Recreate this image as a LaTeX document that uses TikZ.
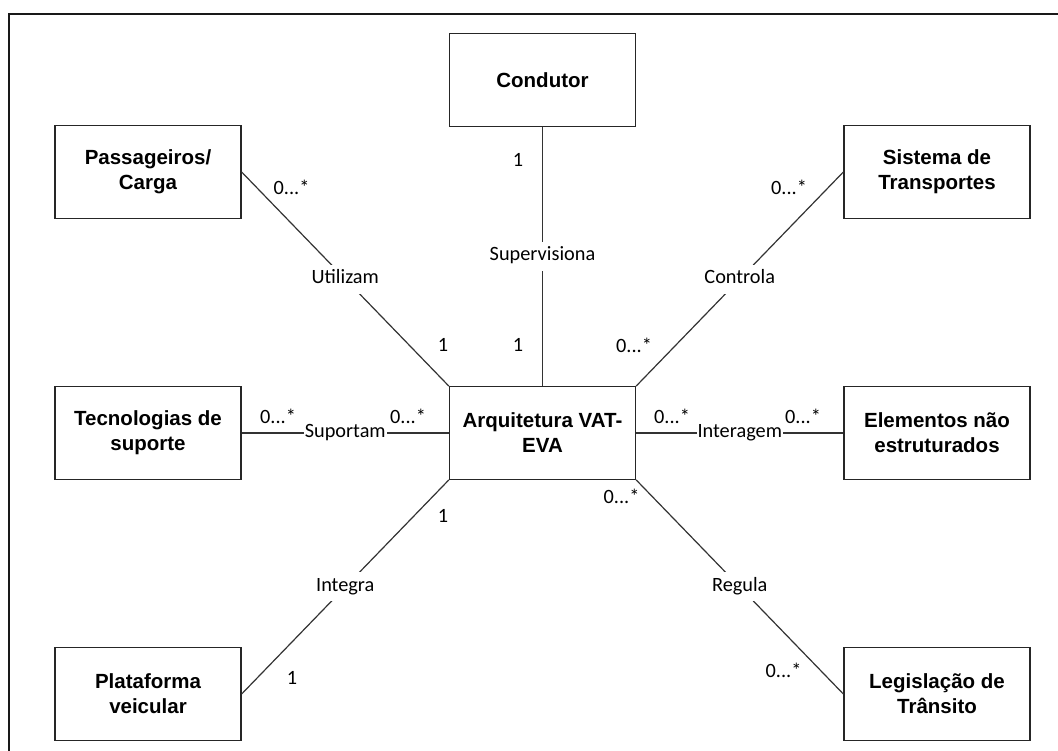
\documentclass[tikz,border=0pt]{standalone}
\usepackage{fontspec}
\setmainfont{Liberation Sans}
\newfontfamily\labelfont{Carlito}

\begin{document}
\begin{tikzpicture}[x=1pt,y=-1pt,
  entity/.style={draw=black!85, line width=1.3pt, minimum width=186pt,
    minimum height=92.5pt, align=center, inner sep=0pt,
    font=\fontsize{20.5}{25}\selectfont\bfseries},
  assoc/.style={draw=black!80, line width=1.2pt},
  verb/.style={fill=white, font=\labelfont\fontsize{20.3}{24}\selectfont,
    inner xsep=1pt, inner ysep=6pt, text height=13pt, text depth=4pt},
  mult/.style={font=\labelfont\fontsize{20.3}{24}\selectfont, inner sep=0pt}
]
\useasboundingbox (0,0) rectangle (1058,751);

% outer frame
\draw[line width=2pt, black!90] (9,770) -- (9,14.5) -- (1080,14.5);

% entities
\node[entity] (cond) at (542.5,80)  {Condutor};
\node[entity] (pass) at (148,172)   {Passageiros/\\Carga};
\node[entity] (sist) at (937,172)   {Sistema de\\Transportes};
\node[entity] (tec)  at (148,433)   {Tecnologias de\\suporte};
\node[entity] (arq)  at (542.5,433) {Arquitetura VAT-\\EVA};
\node[entity] (elem) at (937,433)   {Elementos não\\estruturados};
\node[entity] (plat) at (148,694)   {Plataforma\\veicular};
\node[entity] (leg)  at (937,694)   {Legislação de\\Trânsito};

% associations
\draw[assoc] (cond.south) -- node[verb] (vsup) {Supervisiona} (arq.north);
\draw[assoc] (pass.east) -- node[verb] (vuti) {Utilizam} (arq.north west);
\draw[assoc] (sist.west) -- node[verb] (vcon) {Controla} (arq.north east);
\draw[assoc] (tec.east) -- node[verb] (vsug) {Suportam} (arq.west);
\draw[assoc] (arq.east) -- node[verb] (vint) {Interagem} (elem.west);
\draw[assoc] (plat.east) -- node[verb] (vinteg) {Integra} (arq.south west);
\draw[assoc] (leg.west) -- node[verb] (vreg) {Regula} (arq.south east);

% multiplicities
\node[mult] (m1)  at (291.5,187) {0...*};
\node[mult] (m2)  at (443,345)   {1};
\node[mult] (m3)  at (518,159.5) {1};
\node[mult] (m4)  at (518,345)   {1};
\node[mult] (m5)  at (789,187)   {0...*};
\node[mult] (m6)  at (634,345)   {0...*};
\node[mult] (m7)  at (278,416.5) {0...*};
\node[mult] (m8)  at (408,416.5) {0...*};
\node[mult] (m9)  at (672,416.5) {0...*};
\node[mult] (m10) at (803,416.5) {0...*};
\node[mult] (m11) at (621.5,496) {0...*};
\node[mult] (m12) at (443,515.5) {1};
\node[mult] (m13) at (292,678)   {1};
\node[mult] (m14) at (783.5,670) {0...*};
\end{tikzpicture}
\end{document}
